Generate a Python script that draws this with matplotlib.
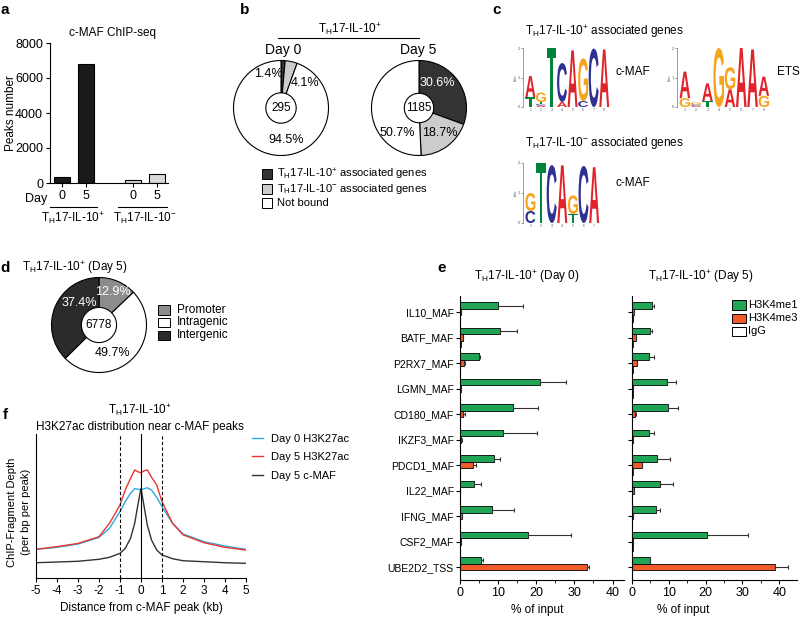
import matplotlib
matplotlib.use('Agg')
import matplotlib.pyplot as plt
from matplotlib.patches import Rectangle, PathPatch
from matplotlib.lines import Line2D
from matplotlib.textpath import TextPath
from matplotlib.font_manager import FontProperties
from matplotlib.transforms import Affine2D
import numpy as np

plt.rcParams['font.family'] = ['Liberation Sans', 'DejaVu Sans']
plt.rcParams['mathtext.fontset'] = 'custom'
plt.rcParams['mathtext.rm'] = 'Liberation Sans'
plt.rcParams['mathtext.it'] = 'Liberation Sans:italic'
plt.rcParams['mathtext.bf'] = 'Liberation Sans:bold'
plt.rcParams['axes.linewidth'] = 0.8

# ---------------- data ----------------
TH_POS = r'T$_{\mathregular{H}}$17-IL-10$^{\mathregular{+}}$'
TH_NEG = r'T$_{\mathregular{H}}$17-IL-10$^{\mathregular{-}}$'

# panel a
a_days = ['0', '5', '0', '5']
a_peaks = [320, 6778, 200, 520]
a_groups = [TH_POS, TH_NEG]

# panel b
b_labels = [TH_POS + ' associated genes', TH_NEG + ' associated genes', 'Not bound']
b_day0 = [1.4, 4.1, 94.5]
b_day5 = [30.6, 18.7, 50.7]
b_totals = ['295', '1185']
b_titles = ['Day 0', 'Day 5']

# panel c (sequence logos, bottom -> top, bits)
logo_maf_pos = [
    [('T', 0.34), ('A', 0.71)],
    [('A', 0.05), ('C', 0.05), ('T', 0.07), ('G', 0.32)],
    [('T', 2.0)],
    [('A', 0.17), ('C', 1.32)],
    [('A', 1.92)],
    [('C', 0.2), ('G', 1.45)],
    [('C', 1.98)],
    [('A', 1.95)],
]
logo_ets = [
    [('G', 0.3), ('A', 0.9)],
    [('A', 0.04), ('C', 0.05), ('G', 0.07)],
    [('T', 0.2), ('A', 0.6)],
    [('G', 2.0)],
    [('A', 0.6), ('G', 0.75)],
    [('A', 2.0)],
    [('A', 1.95)],
    [('G', 0.38), ('A', 0.65)],
]
logo_maf_neg = [
    [('C', 0.4), ('G', 0.6)],
    [('T', 2.0)],
    [('C', 1.93)],
    [('A', 1.92)],
    [('T', 0.3), ('G', 0.62)],
    [('C', 1.9)],
    [('A', 1.86)],
]
LOGO_COLORS = {'A': '#e0242a', 'C': '#2e3192', 'G': '#f7a41d', 'T': '#00843d'}

# panel d
d_labels = ['Promoter', 'Intragenic', 'Intergenic']
d_vals = [12.9, 49.7, 37.4]
d_total = '6778'

# panel e
e_genes = ['IL10_MAF', 'BATF_MAF', 'P2RX7_MAF', 'LGMN_MAF', 'CD180_MAF', 'IKZF3_MAF',
           'PDCD1_MAF', 'IL22_MAF', 'IFNG_MAF', 'CSF2_MAF', 'UBE2D2_TSS']
e0_me1 = [10.0, 10.4, 4.9, 21.0, 14.0, 11.3, 8.8, 3.8, 8.4, 17.7, 5.6]
e0_me1_err = [6.4, 4.5, 0.3, 6.7, 6.4, 8.8, 1.6, 1.7, 5.8, 11.5, 0.3]
e0_me3 = [0.2, 0.7, 1.1, 0.3, 0.7, 0.3, 3.3, 0.1, 0.4, 0.2, 33.4]
e0_me3_err = [0.0, 0.2, 0.3, 0.0, 0.5, 0.1, 0.9, 0.0, 0.1, 0.0, 0.5]
e0_igg = [0.1, 0.2, 0.1, 0.1, 0.1, 0.1, 0.1, 0.1, 0.1, 0.1, 0.1]
e5_me1 = [5.3, 5.0, 4.6, 9.4, 9.8, 4.6, 6.9, 7.6, 6.5, 20.3, 4.8]
e5_me1_err = [0.7, 0.5, 1.3, 2.5, 2.6, 1.4, 3.4, 3.6, 1.0, 11.3, 0.2]
e5_me3 = [0.5, 1.0, 1.4, 0.3, 0.8, 0.4, 2.6, 0.5, 0.2, 0.3, 38.9]
e5_me3_err = [0.1, 0.2, 0.0, 0.0, 0.3, 0.0, 0.0, 0.0, 0.0, 0.0, 3.5]
e5_igg = [0.2, 0.3, 0.2, 0.2, 0.1, 0.1, 0.3, 0.1, 0.1, 0.2, 0.1]
e_series = ['H3K4me1', 'H3K4me3', 'IgG']

# panel f
f_x = [-5, -4, -3, -2, -1.5, -1, -0.75, -0.5, -0.3, -0.15, 0, 0.15, 0.3, 0.5, 0.75, 1, 1.5, 2, 3, 4, 5]
f_day0 = [.199, .213, .236, .282, .345, .461, .53, .588, .62, .617, .611, .62, .627, .611, .56, .495, .38, .306, .252, .222, .199]
f_day5 = [.199, .218, .24, .287, .38, .507, .611, .692, .75, .738, .731, .745, .75, .70, .646, .53, .38, .30, .245, .213, .194]
f_maf = [.106, .111, .116, .13, .144, .171, .206, .275, .38, .507, .623, .495, .368, .264, .194, .16, .134, .12, .113, .106, .102]
f_labels = ['Day 0 H3K27ac', 'Day 5 H3K27ac', 'Day 5 c-MAF']
f_ticks = [-5, -4, -3, -2, -1, 0, 1, 2, 3, 4, 5]

# ---------------- layout helpers ----------------
W, H = 800, 617
fig = plt.figure(figsize=(8, 6.17), dpi=100)


def fx(x):
    return x / W


def fy(y):
    return 1 - y / H


def rect(l, t, r, b):
    return [l / W, 1 - b / H, (r - l) / W, (b - t) / H]


def ftext(x, y, s, **kw):
    kw.setdefault('ha', 'center')
    kw.setdefault('va', 'center')
    fig.text(fx(x), fy(y), s, **kw)


def fline(x0, x1, y0, y1, **kw):
    fig.add_artist(Line2D([fx(x0), fx(x1)], [fy(y0), fy(y1)], transform=fig.transFigure,
                          color='black', lw=0.8, **kw))


def fsquare(x, y, w, h, fc):
    fig.add_artist(Rectangle((fx(x), fy(y + h)), w / W, h / H, transform=fig.transFigure,
                             fc=fc, ec='black', lw=0.7))


def donut(cx, cy, r, hole, vals, colors):
    pad = 1.06
    ax = fig.add_axes(rect(cx - r * pad, cy - r * pad, cx + r * pad, cy + r * pad))
    ax.pie(vals, colors=colors, startangle=90, counterclock=False,
           wedgeprops=dict(width=1 - hole, edgecolor='black', linewidth=0.8))
    ax.set_xlim(-pad, pad)
    ax.set_ylim(-pad, pad)
    return ax


# panel letters
for lab, x, y in [('a', 5, 10), ('b', 245, 10), ('c', 497, 10), ('d', 5, 268), ('e', 442, 268), ('f', 5, 415)]:
    ftext(x, y, lab, fontsize=11, fontweight='bold')

# ---------------- panel a ----------------
axA = fig.add_axes(rect(50, 43, 168, 183))
xa = [1, 2, 4, 5]
colsA = ['#1a1a1a', '#1a1a1a', '#d9d9d9', '#d9d9d9']
axA.bar(xa, a_peaks, width=0.68, color=colsA, edgecolor='black', linewidth=0.8)
axA.set_xlim(0.49, 5.46)
axA.set_ylim(0, 8000)
axA.set_yticks([0, 2000, 4000, 6000, 8000])
axA.set_xticks(xa)
axA.set_xticklabels(a_days)
axA.spines[['top', 'right']].set_visible(False)
axA.tick_params(labelsize=9, length=3, width=0.8, pad=2)
ftext(112, 33, 'c-MAF ChIP-seq', fontsize=8.5)
ftext(11, 113, 'Peaks number', fontsize=8.5, rotation=90)
ftext(47, 199, 'Day', fontsize=9, ha='right')
fline(50, 97, 207, 207)
fline(118, 167, 207, 207)
ftext(73, 218, a_groups[0], fontsize=8.5)
ftext(145, 218, a_groups[1], fontsize=8.5)

# ---------------- panel b ----------------
pieB = ['#333333', '#cccccc', 'white']
ftext(350, 29, TH_POS, fontsize=8.5)
fline(278, 419, 38, 38)
ftext(283, 50, b_titles[0], fontsize=10)
ftext(418, 50, b_titles[1], fontsize=10)
donut(281, 108, 47.5, 0.32, b_day0, pieB)
donut(419, 108, 47.5, 0.31, b_day5, pieB)
ftext(268, 74, '%.1f%%' % b_day0[0], fontsize=9)
ftext(305, 83, '%.1f%%' % b_day0[1], fontsize=9)
ftext(286, 140, '%.1f%%' % b_day0[2], fontsize=9)
ftext(281, 108, b_totals[0], fontsize=8.5)
ftext(437, 83, '%.1f%%' % b_day5[0], fontsize=9, color='white')
ftext(440, 133, '%.1f%%' % b_day5[1], fontsize=9)
ftext(397, 133, '%.1f%%' % b_day5[2], fontsize=9)
ftext(419, 108, b_totals[1], fontsize=8.5)
for i, (lab, c) in enumerate(zip(b_labels, pieB)):
    yc = 174 + i * 14.5
    fsquare(262, yc - 5, 10, 10, c)
    ftext(277, yc, lab, fontsize=8, ha='left')

# ---------------- panel c ----------------
LOGO_FONT = FontProperties(family='Liberation Sans', weight='bold')


def draw_logo(l, t, r, b, columns):
    ax = fig.add_axes(rect(l, t, r, b))
    n = len(columns)
    for i, col in enumerate(columns, start=1):
        base = 0.0
        for letter, h in col:
            tp = TextPath((0, 0), letter, size=1, prop=LOGO_FONT)
            bb = tp.get_extents()
            tr = Affine2D().translate(-bb.x0, -bb.y0).scale(0.94 / bb.width, h / bb.height).translate(i - 0.47, base)
            ax.add_patch(PathPatch(tr.transform_path(tp), fc=LOGO_COLORS[letter], ec='none'))
            base += h
    ax.set_xlim(0.3, n + 0.55)
    ax.set_ylim(0, 2)
    for s in ['top', 'right', 'bottom']:
        ax.spines[s].set_visible(False)
    ax.spines['left'].set_linewidth(0.4)
    ax.spines['left'].set_color('#555555')
    ax.set_yticks([0, 1, 2])
    ax.tick_params(axis='y', labelsize=3, length=1.5, width=0.4, pad=0.5, colors='#555555')
    ax.set_xticks(range(1, n + 1))
    ax.set_xticklabels([str(k) for k in range(1, n + 1)], fontsize=2.5, color='#555555')
    ax.tick_params(axis='x', length=0, pad=1)
    ax.set_ylabel('bits', fontsize=3, labelpad=0.5, color='#555555')
    ax.patch.set_alpha(0)
    return ax


ftext(525, 32, TH_POS + ' associated genes', fontsize=8.5, ha='left')
draw_logo(523, 48, 610, 107, logo_maf_pos)
ftext(615, 72, 'c-MAF', fontsize=8.5, ha='left')
draw_logo(677, 48, 770, 107, logo_ets)
ftext(777, 72, 'ETS', fontsize=8.5, ha='left')
ftext(525, 143, TH_NEG + ' associated genes', fontsize=8.5, ha='left')
draw_logo(523, 163, 600, 223, logo_maf_neg)
ftext(615, 183, 'c-MAF', fontsize=8.5, ha='left')

# ---------------- panel d ----------------
pieD = ['#8c8c8c', 'white', '#2b2b2b']
ftext(75, 268, TH_POS + ' (Day 5)', fontsize=8.5)
donut(99, 325, 47.5, 0.37, d_vals, pieD)
ftext(113, 292, '%.1f%%' % d_vals[0], fontsize=9, color='white')
ftext(113, 353, '%.1f%%' % d_vals[1], fontsize=9)
ftext(79, 303, '%.1f%%' % d_vals[2], fontsize=9, color='white')
ftext(99, 325, d_total, fontsize=8.5)
for i, (lab, c) in enumerate(zip(d_labels, pieD)):
    yc = 310 + i * 12.5
    fsquare(158, yc - 4.5, 12, 9, c)
    ftext(177, yc, lab, fontsize=8.5, ha='left')

# ---------------- panel e ----------------
GREEN = '#1fa553'
ORANGE = '#f15a29'


def chip_panel(l, r, xmax, me1, me1e, me3, me3e, igg, show_labels):
    ax = fig.add_axes(rect(l, 296, r, 580))
    y = np.arange(len(e_genes))
    hb = 0.26
    ax.barh(y - 0.255, me1, height=hb, color=GREEN, edgecolor='black', linewidth=0.6)
    ax.barh(y, me3, height=hb, color=ORANGE, edgecolor='black', linewidth=0.6)
    ax.barh(y + 0.255, igg, height=hb, color='white', edgecolor='black', linewidth=0.6)
    z = np.zeros(len(y))
    ax.errorbar(me1, y - 0.255, xerr=[z, me1e], fmt='none', ecolor='#333333', elinewidth=0.8, capsize=1.5, capthick=0.8)
    ax.errorbar(me3, y, xerr=[z, me3e], fmt='none', ecolor='#333333', elinewidth=0.8, capsize=1.5, capthick=0.8)
    ax.set_ylim(10.51, -0.63)
    ax.set_xlim(0, xmax)
    ax.set_yticks(y)
    if show_labels:
        ax.set_yticklabels(e_genes, fontsize=7.5)
    else:
        ax.set_yticklabels([])
    ax.set_xticks([0, 10, 20, 30, 40])
    ax.set_xticks([5, 15, 25, 35], minor=True)
    ax.tick_params(axis='x', labelsize=9, length=3, width=0.8, pad=2)
    ax.tick_params(axis='x', which='minor', length=2, width=0.6)
    ax.tick_params(axis='y', length=3, width=0.8, pad=1.5)
    ax.spines[['top', 'right']].set_visible(False)
    return ax


chip_panel(460, 624, 43, e0_me1, e0_me1_err, e0_me3, e0_me3_err, e0_igg, True)
chip_panel(632, 797, 44.8, e5_me1, e5_me1_err, e5_me3, e5_me3_err, e5_igg, False)
ftext(527, 277, TH_POS + ' (Day 0)', fontsize=8.5)
ftext(701, 277, TH_POS + ' (Day 5)', fontsize=8.5)
ftext(537, 610, '% of input', fontsize=8.5)
ftext(683, 610, '% of input', fontsize=8.5)
for i, (lab, c) in enumerate(zip(e_series, [GREEN, ORANGE, 'white'])):
    yc = 305 + i * 13
    fsquare(732, yc - 4.5, 14, 9, c)
    ftext(748, yc, lab, fontsize=8, ha='left')

# ---------------- panel f ----------------
axF = fig.add_axes(rect(36, 434, 246, 578))
l1, = axF.plot(f_x, f_day0, color='#29aae1', lw=1.0)
l2, = axF.plot(f_x, f_day5, color='#ee3333', lw=1.0)
l3, = axF.plot(f_x, f_maf, color='#333333', lw=1.0)
axF.axvline(-1, color='black', lw=0.8, ls=(0, (3, 2)))
axF.axvline(1, color='black', lw=0.8, ls=(0, (3, 2)))
axF.axvline(0, color='black', lw=0.8)
axF.set_xlim(-5, 5)
axF.set_ylim(0, 1)
axF.set_yticks([])
axF.set_xticks(f_ticks)
axF.set_xticklabels([str(t) for t in f_ticks])
axF.tick_params(labelsize=8.5, length=3, width=0.8, pad=2)
axF.spines[['top', 'right']].set_visible(False)
axF.legend([l1, l2, l3], f_labels, loc='upper left', bbox_to_anchor=(fx(252), fy(434)),
           bbox_transform=fig.transFigure, frameon=False, fontsize=8, handlelength=1.0,
           handletextpad=0.7, labelspacing=0.75, borderaxespad=0, borderpad=0)
ftext(140, 410, TH_POS, fontsize=8.5)
ftext(140, 427, 'H3K27ac distribution near c-MAF peaks', fontsize=8.5)
ftext(12, 512, 'ChIP-Fragment Depth', fontsize=8, rotation=90)
ftext(26, 512, '(per bp per peak)', fontsize=8, rotation=90)
ftext(141, 608, 'Distance from c-MAF peak (kb)', fontsize=8.5)

fig.savefig('out.png', dpi=100)
